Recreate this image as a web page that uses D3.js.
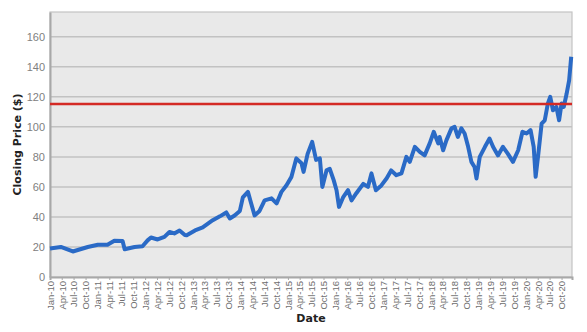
<!DOCTYPE html>
<html>
<head>
<meta charset="utf-8">
<script src="https://cdn.jsdelivr.net/npm/d3@7"></script>
<style>
  body { margin: 0; background: #fff; }
  svg { display: block; font-family: "DejaVu Sans", Verdana, sans-serif; }
</style>
</head>
<body>
<div id="chart"></div>
<script>
// closing prices
const dates = [
  "2010-01-01","2010-03-25","2010-06-25","2010-08-15","2010-10-18","2011-01-03","2011-03-18","2011-05-10",
  "2011-07-12","2011-07-28","2011-10-12","2011-12-12","2012-01-20","2012-02-15","2012-04-06","2012-05-28",
  "2012-07-06","2012-08-12","2012-09-21","2012-11-01","2012-11-15","2013-01-18","2013-03-18","2013-06-03",
  "2013-07-28","2013-09-15","2013-10-12","2013-11-18","2013-12-28","2014-01-20","2014-02-28","2014-03-25",
  "2014-04-20","2014-05-28","2014-07-06","2014-08-28","2014-10-06","2014-11-12","2014-12-20","2015-01-28",
  "2015-03-06","2015-04-15","2015-05-01","2015-06-01","2015-07-06","2015-08-05","2015-09-03","2015-09-22",
  "2015-10-24","2015-11-18","2015-12-18","2016-01-09","2016-01-28","2016-02-28","2016-04-06","2016-05-03",
  "2016-06-09","2016-08-01","2016-09-06","2016-10-03","2016-11-06","2016-12-18","2017-01-28","2017-03-03",
  "2017-04-12","2017-05-21","2017-06-28","2017-07-24","2017-09-01","2017-10-09","2017-11-15","2017-12-24",
  "2018-01-24","2018-02-27","2018-03-10","2018-04-06","2018-05-01","2018-06-09","2018-07-03","2018-07-28",
  "2018-08-24","2018-09-18","2018-10-15","2018-11-09","2018-12-03","2018-12-18","2019-01-12","2019-02-21",
  "2019-03-28","2019-04-24","2019-06-01","2019-07-09","2019-08-15","2019-09-24","2019-11-03","2019-12-06",
  "2020-01-06","2020-02-06","2020-03-01","2020-03-16","2020-04-06","2020-05-01","2020-05-25","2020-06-18",
  "2020-07-06","2020-07-27","2020-08-22","2020-09-12","2020-10-01","2020-10-18","2020-11-09","2020-11-28",
  "2020-12-14"
];
const closes = [
  19, 20, 17, 18.3, 20, 21.5, 21.5, 24.2,
  24, 18.5, 20, 20.5, 24.4, 26.3, 25, 26.7,
  30, 29, 31, 28, 27.8, 31, 33, 37.8,
  40.4, 43, 39, 41, 44, 53, 56.7, 49,
  41, 44, 51, 52.4, 49, 56.7, 61, 66.7,
  79, 75.8, 70, 82, 90, 78, 79, 60,
  71, 72, 64.5, 57.8, 46.7, 53, 57.8, 51,
  55.8, 62, 60, 69, 57.8, 61, 65.8, 71,
  67.8, 69, 80, 76.7, 86.7, 83.3, 81, 89,
  96.7, 89, 93.3, 84.4, 91, 99, 100, 93.3,
  99, 95.6, 86.7, 76.7, 73.3, 65.6, 80, 86.7,
  92.2, 86.7, 81, 86.7, 82.2, 76.7, 84.4, 96.7,
  95.6, 97.8, 86.7, 66.7, 82.2, 102.2, 104.4, 115.6,
  120, 111, 113.3, 104.4, 115.6, 113.3, 122.2, 131,
  146.7
];
const yTicks = [0, 20, 40, 60, 80, 100, 120, 140, 160];
const refLevel = 115.3;

const data = dates.map((d, i) => ({ date: new Date(d + "T00:00:00"), close: closes[i] }));

const W = 587, H = 332;
const margin = { top: 12, right: 15, bottom: 55, left: 50 };
const width = W - margin.left - margin.right;
const height = H - margin.top - margin.bottom;

const svg = d3.select("#chart").append("svg")
  .attr("width", W).attr("height", H);

const g = svg.append("g").attr("transform", `translate(${margin.left},${margin.top})`);

const x = d3.scaleTime()
  .domain([new Date(2010, 0, 1), new Date(2020, 11, 20)])
  .range([0, width]);

const y = d3.scaleLinear()
  .domain([0, 176.5])
  .range([height, 0]);

// panel
g.append("rect")
  .attr("width", width).attr("height", height)
  .attr("fill", "#e9e9e9")
  .attr("stroke", "#c4c4c4").attr("stroke-width", 1.2);

// grid
g.append("g").selectAll("line")
  .data(yTicks.filter(d => d > 0))
  .join("line")
  .attr("x1", 0).attr("x2", width)
  .attr("y1", d => y(d)).attr("y2", d => y(d))
  .attr("stroke", "#c2c2c2").attr("stroke-width", 1.5);

// y axis
const yAxis = g.append("g").call(d3.axisLeft(y).tickValues(yTicks).tickSize(0).tickPadding(5));
yAxis.select(".domain").attr("stroke", "#a8a8a8").attr("stroke-width", 2);
yAxis.selectAll("text").attr("fill", "#808080").style("font-size", "11px");

// x axis, quarterly
const xTicks = d3.timeMonth.every(3).range(new Date(2010, 0, 1), new Date(2020, 11, 1));
const xAxis = g.append("g")
  .attr("transform", `translate(0,${height})`)
  .call(d3.axisBottom(x).tickValues(xTicks).tickFormat(d3.timeFormat("%b-%y")).tickSize(3));
xAxis.select(".domain").attr("stroke", "#a8a8a8").attr("stroke-width", 2);
xAxis.selectAll(".tick line").attr("stroke", "#a8a8a8");
xAxis.selectAll("text")
  .attr("transform", "rotate(-90)")
  .attr("text-anchor", "end")
  .attr("x", -4).attr("y", 0).attr("dy", "0.35em")
  .attr("fill", "#6e6e6e")
  .style("font-size", "9.5px");

// price line
g.append("path")
  .datum(data)
  .attr("fill", "none")
  .attr("stroke", "#2a6ac6")
  .attr("stroke-width", 4)
  .attr("stroke-linejoin", "round")
  .attr("d", d3.line().x(d => x(d.date)).y(d => y(d.close)));

// reference line
g.append("line")
  .attr("x1", 0).attr("x2", width)
  .attr("y1", y(refLevel)).attr("y2", y(refLevel))
  .attr("stroke", "#d42a25").attr("stroke-width", 2.5);

// axis titles
g.append("text")
  .attr("transform", "rotate(-90)")
  .attr("x", -height / 2).attr("y", -29)
  .attr("text-anchor", "middle")
  .attr("fill", "#222")
  .style("font-size", "11px").style("font-weight", "bold")
  .text("Closing Price ($)");

g.append("text")
  .attr("x", width / 2).attr("y", height + 45)
  .attr("text-anchor", "middle")
  .attr("fill", "#222")
  .style("font-size", "11px").style("font-weight", "bold")
  .text("Date");
</script>
</body>
</html>
